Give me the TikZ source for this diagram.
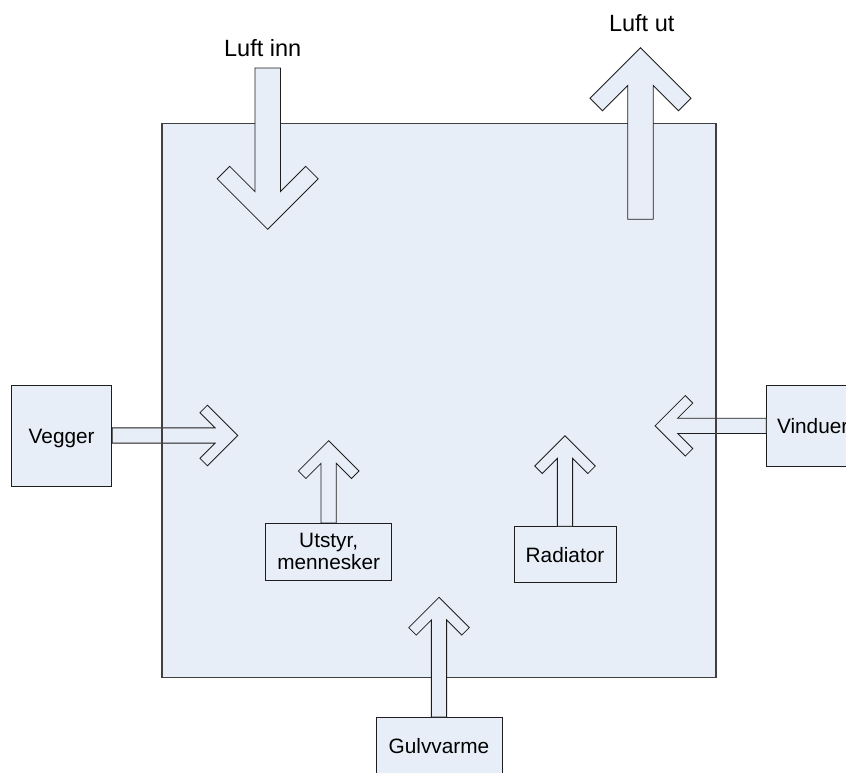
\documentclass[tikz,border=0pt]{standalone}
\usepackage{fontspec}
\setmainfont{Liberation Sans}
\usetikzlibrary{calc}
\definecolor{boxfill}{RGB}{232,238,247}
\definecolor{edgegray}{RGB}{64,64,64}
\definecolor{linegray}{RGB}{30,30,30}
\tikzset{
  blk/.style={draw=linegray, fill=boxfill, line width=0.8pt, line join=miter, miter limit=10},
  srcbox/.style={draw=linegray, fill=boxfill, line width=0.8pt, inner sep=0pt,
    font=\fontsize{20.8}{22}\selectfont, align=center},
  oneline/.style={text height=15pt, text depth=0pt},
  roomfill/.style={fill=boxfill, inner sep=0pt, outer sep=0pt},
  roomedge/.style={draw=edgegray, line width=1.3pt},
  lbl/.style={font=\fontsize{23.5}{26}\selectfont, inner sep=0pt, anchor=base},
}
% block arrow: tail, tip, scale
\newcommand\blockarrow[3]{%
  \draw[blk] ($(#1)!{#3*12.7pt}!90:(#2)$)
    -- ($(#2)!{#3*37.7pt}!(#1)!{#3*12.7pt}!-90:(#1)$)
    -- ($(#2)!{#3*63pt}!(#1)!{#3*38pt}!-90:(#1)$)
    -- ($(#2)!{#3*50.5pt}!(#1)!{#3*50.5pt}!-90:(#1)$)
    -- (#2)
    -- ($(#2)!{#3*50.5pt}!(#1)!{#3*50.5pt}!90:(#1)$)
    -- ($(#2)!{#3*63pt}!(#1)!{#3*38pt}!90:(#1)$)
    -- ($(#2)!{#3*37.7pt}!(#1)!{#3*12.7pt}!90:(#1)$)
    -- ($(#1)!{#3*12.7pt}!-90:(#2)$) -- cycle;}
\begin{document}
\begin{tikzpicture}[x=1pt,y=-1pt]
\useasboundingbox (0,0) rectangle (846,772);
\clip (0,0) rectangle (846,772);
\fill[white] (0,0) rectangle (846,772);

% room background
\node[roomfill, minimum width=554pt, minimum height=554pt] (room) at (439,400.3) {};

% outer sources
\node[srcbox, oneline, minimum width=100pt, minimum height=101pt] (vegger) at (61.7,435.5) {Vegger};
\node[srcbox, oneline, minimum width=92pt, minimum height=81.7pt] (vinduer) at (812.7,425.8) {Vinduer};

\coordinate (veggerTip) at (237.7,435.5);
\coordinate (vinduerTip) at (655,425.8);
\blockarrow{vegger.east}{veggerTip}{0.6}
\blockarrow{vinduer.west}{vinduerTip}{0.6}

% room border
\draw[roomedge] (room.north west) rectangle (room.south east);

% air in / out
\coordinate (innTail) at (267.7,68);
\coordinate (innTip) at (267.7,229.3);
\coordinate (utTail) at (640.5,219.3);
\coordinate (utTip) at (640.5,47.7);
\blockarrow{innTail}{innTip}{1}
\blockarrow{utTail}{utTip}{1}
\node[lbl] (luftinn) at (262.7,56) {Luft inn};
\node[lbl] (luftut) at (641.7,31) {Luft ut};

% internal sources
\node[srcbox, minimum width=126pt, minimum height=56.7pt] (utstyr) at (328.7,551.7) {Utstyr,\\mennesker};
\node[srcbox, oneline, minimum width=102pt, minimum height=56pt] (radiator) at (565,554.7) {Radiator};
\node[srcbox, oneline, minimum width=126pt, minimum height=56pt] (gulv) at (439,745.5) {Gulvvarme};

\coordinate (utstyrTip) at (328.7,440.7);
\coordinate (radTip) at (565,435.7);
\coordinate (gulvTip) at (439,597.3);
\blockarrow{utstyr.north}{utstyrTip}{0.6}
\blockarrow{radiator.north}{radTip}{0.6}
\blockarrow{gulv.north}{gulvTip}{0.6}
\end{tikzpicture}
\end{document}
